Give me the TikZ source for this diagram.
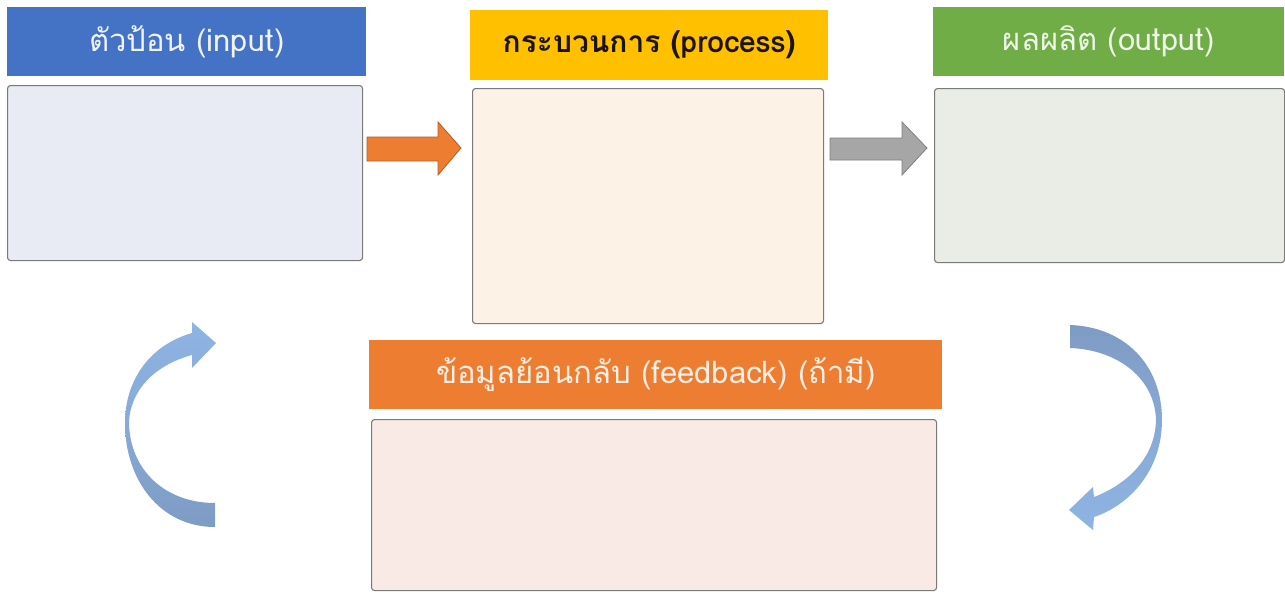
\documentclass[tikz,border=0pt]{standalone}
\usepackage{fontspec}
\setmainfont[Script=Thai]{Loma}
\usetikzlibrary{calc}
\definecolor{inblue}{HTML}{4472C4}
\definecolor{procyel}{HTML}{FFC000}
\definecolor{outgreen}{HTML}{70AD47}
\definecolor{fborange}{HTML}{ED7D31}
\definecolor{inbg}{HTML}{E8EBF3}
\definecolor{procbg}{HTML}{FDF2E6}
\definecolor{outbg}{HTML}{E9EDE6}
\definecolor{fbbg}{HTML}{FAEAE5}
\definecolor{boxline}{HTML}{7A7A7A}
\definecolor{arrblueA}{HTML}{8EB4E3}
\definecolor{arrblueB}{HTML}{7E9BC3}
\tikzset{
  hdr/.style={anchor=north west, inner sep=0pt, font=\fontsize{31}{34}\selectfont},
  panel/.style={anchor=north west, draw=boxline, line width=1.1pt, rounded corners=3pt, inner sep=0pt},
  blockarrow/.style={line width=0.8pt, line join=miter},
  curvearrow/.style={draw=none}
}
\begin{document}
\begin{tikzpicture}[x=1pt,y=-1pt]
\useasboundingbox[fill=white] (0,0) rectangle (1285,594);
% headers
\node[hdr, fill=inblue, minimum width=359, minimum height=69, text=white!92!inblue] (inhdr) at (7,7) {ตัวป้อน (input)};
\node[hdr, fill=procyel, minimum width=358, minimum height=70, text=black!85!brown, font=\fontsize{30}{34}\selectfont\bfseries] (prochdr) at (470,10) {กระบวนการ (process)};
\node[hdr, fill=outgreen, minimum width=351, minimum height=69, text=white!88!outgreen] (outhdr) at (933,7) {ผลผลิต (output)};
\node[hdr, fill=fborange, minimum width=573, minimum height=69, text=white!88!fborange] (fbhdr) at (369,340) {ข้อมูลย้อนกลับ (feedback) (ถ้ามี)};
% boxes
\node[panel, fill=inbg, minimum width=355, minimum height=175] (inbox) at (7,85) {};
\node[panel, fill=procbg, minimum width=351, minimum height=235] (procbox) at (472,88) {};
\node[panel, fill=outbg, minimum width=350, minimum height=174] (outbox) at (934,88) {};
\node[panel, fill=fbbg, minimum width=565, minimum height=171] (fbbox) at (371,419) {};
% block arrows
\coordinate (a1s) at (367,149);
\coordinate (a1t) at (461,148);
\coordinate (a2s) at (830,149);
\coordinate (a2t) at (927,148);
\draw[blockarrow, fill=fborange, draw=fborange!75!black]
  ($(a1s)+(0,-12)$) -- ($(a1t)+(-23,-11)$) -- ($(a1t)+(-23,-26)$) -- (a1t)
  -- ($(a1t)+(-23,27)$) -- ($(a1t)+(-23,13)$) -- ($(a1s)+(0,12)$) -- cycle;
\draw[blockarrow, fill=black!35, draw=black!50]
  ($(a2s)+(0,-11)$) -- ($(a2t)+(-25,-10)$) -- ($(a2t)+(-25,-26)$) -- (a2t)
  -- ($(a2t)+(-25,27)$) -- ($(a2t)+(-25,12)$) -- ($(a2s)+(0,11)$) -- cycle;
% curved arrows
\shade[curvearrow, top color=arrblueA, bottom color=arrblueB, middle color=arrblueA!60!arrblueB]
  (215,527) .. controls (160,527) and (125,480) .. (125,423)
  .. controls (125,380) and (150,345) .. (192,333)
  -- (192,322) -- (216,343) -- (192,368) -- (192,355)
  .. controls (155,365) and (130,390) .. (129,423)
  .. controls (130,470) and (165,503) .. (215,503) -- cycle;
\shade[curvearrow, top color=arrblueB, bottom color=arrblueA, middle color=arrblueA!60!arrblueB]
  (1070,325) .. controls (1125,327) and (1162,365) .. (1162,420)
  .. controls (1162,470) and (1130,505) .. (1094,517)
  -- (1093,530) -- (1069,510) -- (1093,487) -- (1094,497)
  .. controls (1125,485) and (1155,460) .. (1156,420)
  .. controls (1155,380) and (1120,350) .. (1070,348) -- cycle;
\end{tikzpicture}
\end{document}
